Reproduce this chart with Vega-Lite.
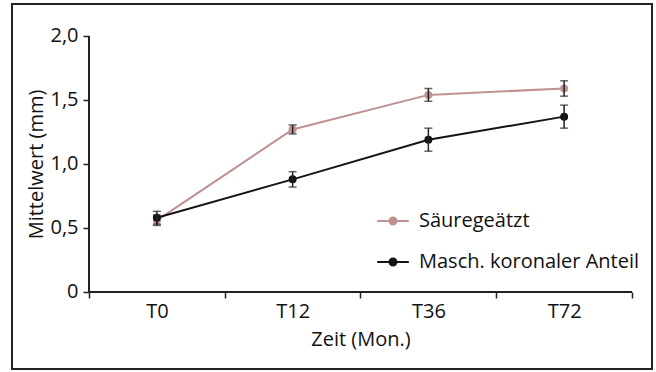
{
  "$schema": "https://vega.github.io/schema/vega-lite/v6.json",
  "width": 640,
  "height": 365,
  "autosize": "none",
  "padding": {"left": 12, "top": 4, "right": 4, "bottom": 3},
  "background": "white",
  "config": {
    "font": "Open Sans",
    "view": {"stroke": "#222", "strokeWidth": 2},
    "axis": {"grid": false, "domain": false, "tickColor": "#222", "tickWidth": 1.5, "tickSize": 6, "labelFontSize": 20, "labelColor": "#111", "titleFontSize": 20, "titleFontWeight": "normal", "titleColor": "#111", "labelFont": "Open Sans", "titleFont": "Open Sans"}
  },
  "data": {
    "values": [
      {"zeit": "T0", "gruppe": "Säuregeätzt", "wert": 0.56, "err": 0.04},
      {"zeit": "T12", "gruppe": "Säuregeätzt", "wert": 1.27, "err": 0.035},
      {"zeit": "T36", "gruppe": "Säuregeätzt", "wert": 1.54, "err": 0.05},
      {"zeit": "T72", "gruppe": "Säuregeätzt", "wert": 1.59, "err": 0.06},
      {"zeit": "T0", "gruppe": "Masch. koronaler Anteil", "wert": 0.58, "err": 0.05},
      {"zeit": "T12", "gruppe": "Masch. koronaler Anteil", "wert": 0.88, "err": 0.06},
      {"zeit": "T36", "gruppe": "Masch. koronaler Anteil", "wert": 1.19, "err": 0.09},
      {"zeit": "T72", "gruppe": "Masch. koronaler Anteil", "wert": 1.37, "err": 0.09}
    ]
  },
  "encoding": {
    "x": {
      "field": "zeit", "type": "nominal", "sort": ["T0", "T12", "T36", "T72"],
      "scale": {"domain": ["T0", "T12", "T36", "T72"], "paddingInner": 0, "paddingOuter": 0.35727, "align": 0.7938},
      "axis": {"orient": "bottom", "offset": -77, "tickBand": "extent", "labelAngle": 0, "labelPadding": 3, "title": "Zeit (Mon.)", "titleX": 348.5, "titleY": 47.5, "titleBaseline": "middle", "titleAlign": "center"}
    },
    "y": {
      "field": "wert", "type": "quantitative",
      "scale": {"domain": [-0.6016, 2.25], "nice": false, "zero": false},
      "axis": {"orient": "left", "offset": -77, "values": [0, 0.5, 1, 1.5, 2], "labelExpr": "datum.value == 0 ? '0' : replace(format(datum.value, '.1f'), '.', ',')", "labelPadding": 5, "title": "Mittelwert (mm)", "titleX": -53, "titleY": 160, "titleBaseline": "middle", "titleAlign": "center", "titleAngle": -90}
    }
  },
  "layer": [
    {
      "mark": {"type": "rule", "color": "#222", "strokeWidth": 1.5},
      "encoding": {
        "x": {"datum": "T0", "type": "nominal", "bandPosition": 0},
        "y": {"datum": 0, "type": "quantitative"},
        "y2": {"datum": 2}
      }
    },
    {
      "mark": {"type": "rule", "color": "#222", "strokeWidth": 1.5},
      "encoding": {
        "x": {"datum": "T0", "type": "nominal", "bandPosition": 0},
        "x2": {"datum": "T72", "bandPosition": 1},
        "y": {"datum": 0, "type": "quantitative"}
      }
    },
    {
      "mark": {"type": "line", "strokeWidth": 2},
      "encoding": {
        "color": {
          "field": "gruppe", "type": "nominal",
          "scale": {"domain": ["Säuregeätzt", "Masch. koronaler Anteil"], "range": ["#c09191", "#141414"]},
          "legend": {
            "orient": "none", "legendX": 364, "legendY": 200, "title": null,
            "symbolType": "M-1,0L1,0M0.22,0A0.22,0.22,0,1,1,-0.22,0A0.22,0.22,0,1,1,0.22,0Z",
            "symbolSize": 1000, "symbolStrokeWidth": 2, "labelFontSize": 20, "labelFont": "Open Sans", "labelColor": "#111",
            "labelOffset": 9, "labelLimit": 400, "rowPadding": 14, "padding": 0,
            "encode": {"symbols": {"update": {"fill": {"scale": "color", "field": "value"}, "stroke": {"scale": "color", "field": "value"}}}}
          }
        }
      }
    },
    {
      "mark": {"type": "point", "filled": true, "size": 64, "opacity": 1},
      "encoding": {
        "color": {"field": "gruppe", "type": "nominal"}
      }
    },
    {
      "mark": {"type": "errorbar", "ticks": {"size": 8}, "color": "#222", "thickness": 1.5},
      "encoding": {
        "yError": {"field": "err"}
      }
    }
  ]
}
